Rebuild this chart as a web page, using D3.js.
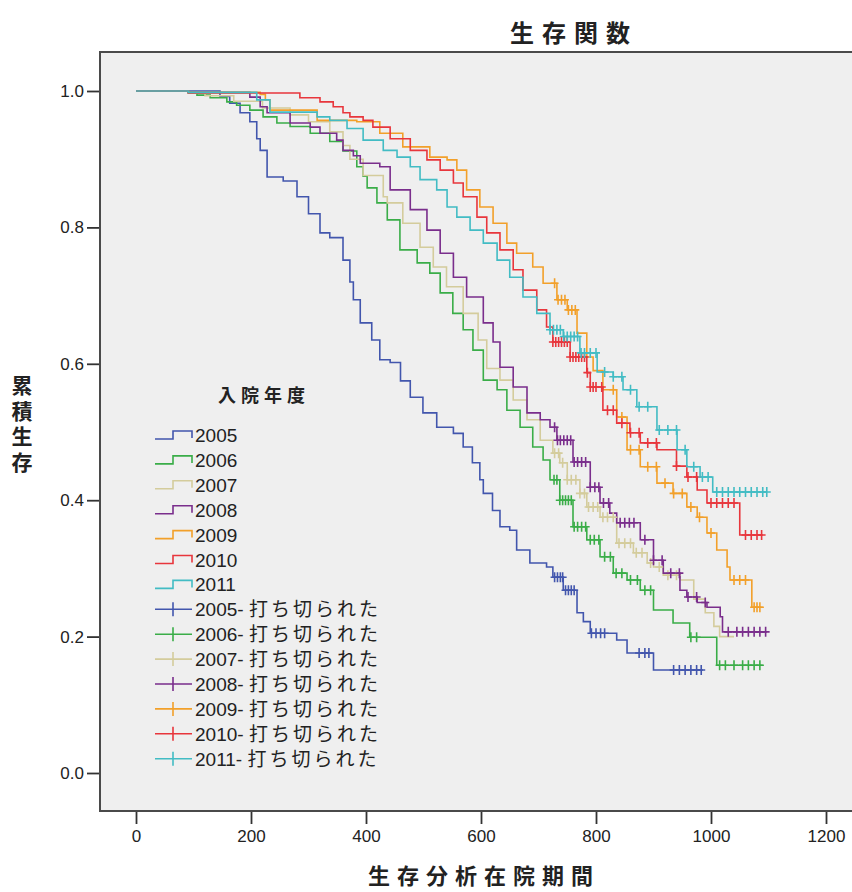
<!DOCTYPE html>
<html lang="ja">
<head>
<meta charset="UTF-8">
<title>生存関数</title>
<script src="https://cdnjs.cloudflare.com/ajax/libs/d3/7.8.5/d3.min.js"></script>
<style>
  body { margin: 0; background: #fff; }
  svg text { font-family: "Liberation Sans", "Noto Sans CJK JP", sans-serif; fill: #222; }
</style>
</head>
<body>
<svg id="chart" width="852" height="892"></svg>
<script>
// 入院年度ごとの生存曲線 [日数, 累積生存]
const years = ["2005", "2006", "2007", "2008", "2009", "2010", "2011"];
const colors = ["#4256ad", "#3aad48", "#d4cc9c", "#7a2e8c", "#f2a02a", "#e8363c", "#42bcc4"];

const surv2005 = [[0,1],[146,0.992],[163,0.982],[181,0.968],[198,0.955],[210,0.93],[216,0.913],[228,0.874],[256,0.868],[280,0.845],[300,0.82],[320,0.792],[337,0.785],[360,0.752],[372,0.72],[378,0.694],[390,0.66],[410,0.635],[424,0.606],[442,0.602],[460,0.575],[477,0.551],[499,0.528],[523,0.507],[552,0.498],[569,0.478],[585,0.455],[598,0.43],[604,0.41],[620,0.385],[633,0.361],[650,0.356],[662,0.327],[685,0.308],[714,0.302],[725,0.287],[743,0.268],[767,0.235],[778,0.222],[790,0.205],[836,0.195],[854,0.176],[900,0.151]];
const surv2006 = [[0,1],[91,0.997],[106,0.994],[129,0.99],[158,0.984],[175,0.979],[198,0.972],[221,0.962],[245,0.953],[268,0.948],[303,0.938],[337,0.926],[360,0.912],[384,0.889],[395,0.875],[402,0.858],[419,0.836],[437,0.811],[459,0.767],[489,0.748],[511,0.733],[529,0.704],[551,0.674],[569,0.65],[586,0.62],[604,0.576],[628,0.562],[645,0.532],[668,0.507],[690,0.478],[708,0.459],[720,0.43],[737,0.4],[760,0.361],[784,0.342],[807,0.317],[830,0.293],[854,0.283],[877,0.268],[900,0.239],[934,0.22],[963,0.199],[1010,0.158]];
const surv2007 = [[0,1],[91,0.997],[120,0.993],[170,0.985],[220,0.975],[268,0.965],[300,0.955],[337,0.94],[360,0.92],[372,0.9],[395,0.876],[430,0.845],[437,0.836],[464,0.806],[494,0.771],[517,0.742],[540,0.713],[569,0.674],[595,0.635],[610,0.593],[633,0.576],[656,0.547],[680,0.518],[703,0.488],[725,0.469],[737,0.455],[750,0.43],[772,0.41],[784,0.39],[807,0.375],[836,0.337],[865,0.323],[889,0.308],[900,0.302],[917,0.29],[946,0.283],[970,0.255],[990,0.235],[1005,0.215],[1015,0.2]];
const surv2008 = [[0,1],[91,0.998],[198,0.991],[216,0.977],[228,0.968],[268,0.953],[303,0.947],[320,0.938],[349,0.928],[360,0.913],[378,0.905],[390,0.894],[424,0.889],[442,0.855],[477,0.826],[506,0.796],[529,0.762],[552,0.727],[575,0.698],[604,0.66],[621,0.632],[633,0.595],[656,0.566],[680,0.528],[703,0.518],[720,0.507],[732,0.488],[760,0.456],[790,0.419],[807,0.396],[824,0.381],[836,0.367],[877,0.342],[900,0.312],[917,0.293],[946,0.268],[958,0.258],[976,0.25],[993,0.243],[1016,0.229],[1020,0.207]];
const surv2009 = [[0,1],[91,0.998],[216,0.995],[225,0.987],[233,0.972],[315,0.957],[384,0.955],[424,0.938],[464,0.918],[511,0.903],[541,0.899],[558,0.884],[575,0.855],[598,0.83],[621,0.806],[645,0.777],[662,0.762],[690,0.742],[708,0.718],[732,0.694],[750,0.679],[767,0.645],[784,0.61],[795,0.59],[812,0.562],[836,0.522],[854,0.474],[877,0.449],[906,0.425],[934,0.41],[958,0.39],[976,0.375],[993,0.352],[1010,0.327],[1028,0.302],[1033,0.283],[1071,0.243]];
const surv2010 = [[0,1],[91,0.997],[285,0.99],[320,0.984],[343,0.977],[360,0.968],[372,0.962],[395,0.957],[412,0.947],[442,0.93],[477,0.913],[506,0.899],[529,0.884],[552,0.865],[569,0.845],[593,0.815],[610,0.792],[633,0.767],[656,0.738],[673,0.708],[697,0.679],[714,0.654],[725,0.632],[755,0.61],[784,0.587],[790,0.566],[812,0.532],[836,0.513],[859,0.499],[877,0.484],[906,0.474],[940,0.45],[958,0.434],[976,0.415],[993,0.396],[1050,0.349]];
const surv2011 = [[0,1],[91,0.998],[210,0.987],[233,0.969],[315,0.962],[337,0.957],[367,0.945],[395,0.928],[430,0.913],[454,0.903],[477,0.889],[494,0.87],[523,0.855],[541,0.83],[558,0.815],[581,0.796],[604,0.777],[628,0.752],[650,0.727],[673,0.698],[697,0.674],[720,0.65],[743,0.64],[772,0.616],[802,0.588],[830,0.581],[847,0.562],[871,0.537],[906,0.503],[941,0.474],[958,0.449],[981,0.434],[1003,0.412]];
const endTimes = [986, 1090, 1040, 1097, 1090, 1090, 1097];

// 打ち切り時点
const cens2005 = [728,733,738,742,747,752,757,762,792,800,808,815,875,885,892,935,945,955,965,975,983];
const cens2006 = [727,732,737,742,747,752,757,762,768,775,782,790,797,805,815,825,835,845,860,872,885,895,965,975,1015,1025,1040,1055,1065,1075,1085];
const cens2007 = [728,735,742,750,757,765,772,780,787,795,803,812,820,830,840,850,860,870,880,895,910,925,940];
const cens2008 = [728,733,738,744,750,756,762,768,775,782,790,798,805,813,822,842,850,858,866,885,900,915,930,945,960,975,990,1030,1045,1055,1065,1075,1085,1095];
const cens2009 = [728,734,740,746,752,758,764,830,845,860,875,890,905,920,935,950,965,980,1000,1040,1050,1060,1075,1080,1085];
const cens2010 = [725,730,735,740,745,750,755,760,765,770,775,780,785,790,795,800,810,820,830,845,860,875,890,905,940,960,975,1000,1010,1020,1030,1040,1060,1070,1080,1088];
const cens2011 = [720,726,732,738,744,750,756,762,768,774,780,790,800,815,830,845,860,875,890,910,925,940,955,970,985,995,1010,1020,1030,1040,1050,1060,1070,1080,1090,1097];

const yTicks = [0, 0.2, 0.4, 0.6, 0.8, 1.0];
const xTicks = [0, 200, 400, 600, 800, 1000, 1200];

const survs = [surv2005, surv2006, surv2007, surv2008, surv2009, surv2010, surv2011];
const censs = [cens2005, cens2006, cens2007, cens2008, cens2009, cens2010, cens2011];

const svg = d3.select("#chart");
const x = d3.scaleLinear().domain([0, 1200]).range([136, 826]);
const y = d3.scaleLinear().domain([0, 1]).range([773, 91]);
const frame = { left: 100, top: 52, right: 870, bottom: 811 };

// plot background + frame
svg.append("rect")
    .attr("x", frame.left).attr("y", frame.top)
    .attr("width", frame.right - frame.left).attr("height", frame.bottom - frame.top)
    .attr("fill", "#efefef").attr("stroke", "#4a4a4a").attr("stroke-width", 2);

// axes
const yAxis = svg.append("g")
    .attr("transform", `translate(${frame.left - 1},0)`)
    .call(d3.axisLeft(y).tickValues(yTicks).tickFormat(d3.format(".1f")).tickSize(12).tickPadding(3));
const xAxis = svg.append("g")
    .attr("transform", `translate(0,${frame.bottom + 1})`)
    .call(d3.axisBottom(x).tickValues(xTicks).tickFormat(d3.format("d")).tickSize(12).tickPadding(6));
[yAxis, xAxis].forEach(g => {
    g.select(".domain").remove();
    g.selectAll(".tick line").attr("stroke", "#333").attr("stroke-width", 1.8);
    g.selectAll(".tick text").attr("font-size", 17).attr("fill", "#333");
});

// survival step lines
const line = d3.line()
    .x(d => x(d[0]))
    .y(d => y(d[1]))
    .curve(d3.curveStepAfter);

function survAt(data, t) {
    let s = data[0][1];
    for (const d of data) { if (d[0] <= t) s = d[1]; }
    return s;
}

survs.forEach((data, i) => {
    const pts = data.concat([[endTimes[i], data[data.length - 1][1]]]);
    svg.append("path")
        .attr("d", line(pts))
        .attr("fill", "none")
        .attr("stroke", colors[i])
        .attr("stroke-width", 1.6);
});

// censor marks
censs.forEach((ts, i) => {
    svg.append("g").selectAll("path")
        .data(ts)
        .enter()
        .append("path")
        .attr("d", t => {
            const px = x(t), py = y(survAt(survs[i], t));
            return `M${px - 4},${py}H${px + 4}M${px},${py - 5}V${py + 5}`;
        })
        .attr("stroke", colors[i])
        .attr("stroke-width", 1.6)
        .attr("fill", "none");
});

// titles
svg.append("text")
    .attr("x", 574).attr("y", 42)
    .attr("text-anchor", "middle")
    .attr("font-size", 24).attr("font-weight", "bold")
    .attr("letter-spacing", 8)
    .text("生存関数");
svg.append("text")
    .attr("x", 484).attr("y", 884)
    .attr("text-anchor", "middle")
    .attr("font-size", 22).attr("font-weight", "bold")
    .attr("letter-spacing", 7)
    .text("生存分析在院期間");
svg.append("g").selectAll("text")
    .data(["累", "積", "生", "存"])
    .enter()
    .append("text")
    .attr("x", 22).attr("y", (d, i) => 393 + i * 25.5)
    .attr("text-anchor", "middle")
    .attr("font-size", 21).attr("font-weight", "bold")
    .text(d => d);

// legend
const legend = svg.append("g");
legend.append("text")
    .attr("x", 218).attr("y", 402)
    .attr("font-size", 18).attr("font-weight", "bold")
    .attr("letter-spacing", 5)
    .text("入院年度");

const legendItems = years.map((yr, i) => ({ year: yr, color: colors[i], censor: false }))
    .concat(years.map((yr, i) => ({ year: yr, color: colors[i], censor: true })));

const item = legend.selectAll("g.item")
    .data(legendItems)
    .enter()
    .append("g")
    .attr("class", "item")
    .attr("transform", (d, i) => `translate(0,${435 + i * 24.9})`);

item.append("path")
    .attr("d", d => d.censor
        ? "M155,0H192M173,-7V7"
        : "M155,4H173V-4H192V3")
    .attr("fill", "none")
    .attr("stroke", d => d.color)
    .attr("stroke-width", 1.6);

const label = item.append("text")
    .attr("x", 195).attr("y", 7)
    .attr("font-size", 19);
label.append("tspan").text(d => d.censor ? d.year + "- " : d.year);
label.filter(d => d.censor).append("tspan")
    .attr("letter-spacing", 3)
    .text("打ち切られた");
</script>
</body>
</html>
